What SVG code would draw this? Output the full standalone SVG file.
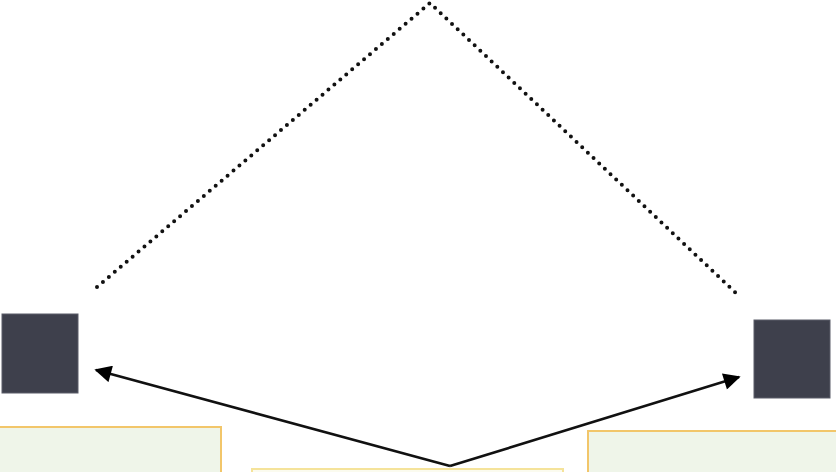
<svg xmlns="http://www.w3.org/2000/svg" width="836" height="472" viewBox="0 0 836 472">
  <defs>
    <marker id="ah" viewBox="0 0 10 10" refX="9" refY="5" markerWidth="7" markerHeight="6.5" markerUnits="strokeWidth" orient="auto">
      <path d="M0,0 L10,5 L0,10 z" fill="#000"/>
    </marker>
    <style>
      .dots { fill: none; stroke: #111; stroke-width: 4; stroke-linecap: round; stroke-dasharray: 0 7.8; }
      .block { fill: #3e404c; stroke: #5a5c68; stroke-width: 1; }
      .arrow { fill: none; stroke: #111; stroke-width: 2.6; marker-end: url(#ah); }
      .label { fill: #eff5e9; stroke: #f2c66a; stroke-width: 2; }
    </style>
  </defs>
  <rect width="836" height="472" fill="#ffffff"/>
  <g id="roof">
    <polyline class="dots" points="97,287 430,3 738,295"/>
  </g>
  <g id="node-left">
    <rect class="block" x="2" y="314" width="76" height="79"/>
  </g>
  <g id="node-right">
    <rect class="block" x="754" y="320" width="76" height="78"/>
  </g>
  <g id="label-left">
    <rect class="label" x="-2" y="427" width="223" height="60"/>
  </g>
  <g id="label-middle">
    <rect class="label" x="252" y="469" width="311" height="20" style="fill:#fbfbef;stroke:#f5e39a"/>
  </g>
  <g id="label-right">
    <rect class="label" x="588" y="431" width="260" height="60"/>
  </g>
  <g id="connectors">
    <line class="arrow" x1="450" y1="466" x2="96" y2="370"/>
    <line class="arrow" x1="450" y1="466" x2="739" y2="377"/>
  </g>
</svg>
